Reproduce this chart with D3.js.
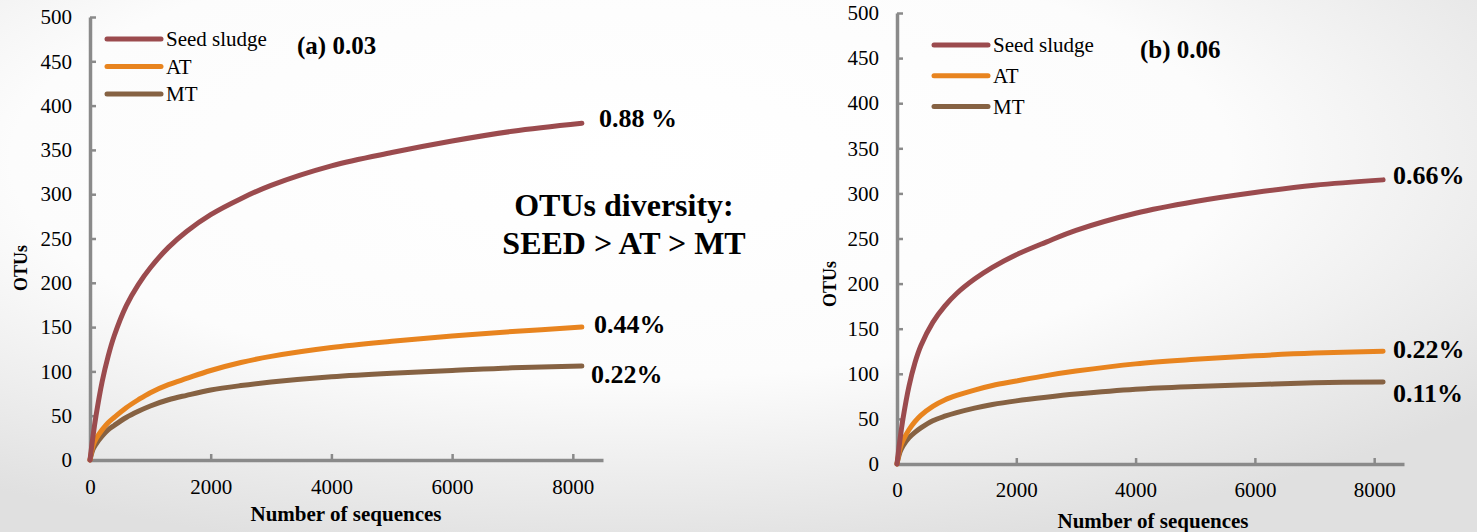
<!DOCTYPE html>
<html>
<head>
<meta charset="utf-8">
<script src="https://cdn.jsdelivr.net/npm/d3@7"></script>
<style>
  html, body { margin: 0; padding: 0; }
  body { width: 1477px; height: 532px; overflow: hidden; }
  .axis path, .axis line { stroke: #8a8a8a; }
</style>
</head>
<body>
<svg id="chart" width="1477" height="532"></svg>
<script>
const SERIF = '"Times New Roman", "Liberation Serif", Tinos, "Noto Serif", "DejaVu Serif", serif';

// number of sequences sampled (shared by every curve)
const sequences = [0, 50, 100, 200, 300, 400, 600, 800, 1000, 1300, 1600, 2000, 2500, 3000, 4000, 5000, 6000, 7000, 8150];

// (a) cutoff 0.03
const seedA = [0, 27, 50, 88, 117, 140, 174, 198, 217, 240, 258, 277, 295, 310, 332, 347, 360, 371, 380];
const atA   = [0, 16, 24, 34, 42, 48, 59, 68, 76, 85, 92, 101, 110, 117, 127, 134, 140, 145, 150];
const mtA   = [0, 12, 18, 27, 34, 39, 48, 55, 61, 68, 73, 79, 84, 88, 94, 98, 101, 104, 106];

// (b) cutoff 0.06
const seedB = [0, 27, 50, 86, 112, 131, 157, 175, 189, 205, 218, 232, 246, 259, 278, 291, 301, 309, 315];
const atB   = [0, 17, 26, 38, 47, 54, 64, 71, 76, 82, 87, 92, 98, 103, 111, 116, 120, 123, 125];
const mtB   = [0, 13, 20, 29, 35, 40, 48, 53, 57, 62, 66, 70, 74, 77.5, 83, 86, 88, 90, 91];

const seriesNames = ['Seed sludge', 'AT', 'MT'];
const seriesColors = ['#9b4b4e', '#e8841f', '#866243'];
const xTicks = [0, 2000, 4000, 6000, 8000];
const yTicks = d3.range(0, 501, 50);

const panels = [
  {
    title: '(a) 0.03', series: [seedA, atA, mtA], ends: ['0.88 %', '0.44%', '0.22%'],
    x0: 90, x1: 603, y0: 460, y1: 17,
    titlePos: [297, 54], legend: { x: 107, y: 39, step: 27.5 },
    endPos: [[599, 127], [594, 333], [591, 383]],
    yLabel: [27, 268], xLabel: [346, 521], xTickY: 494,
  },
  {
    title: '(b) 0.06', series: [seedB, atB, mtB], ends: ['0.66%', '0.22%', '0.11%'],
    x0: 897, x1: 1404, y0: 464, y1: 13,
    titlePos: [1140, 58], legend: { x: 934, y: 45, step: 30.8 },
    endPos: [[1393, 184], [1393, 358], [1393, 402]],
    yLabel: [836, 284], xLabel: [1153, 528], xTickY: 497,
  },
];

const svg = d3.select('#chart');

// soft grey backdrop
const defs = svg.append('defs');
const grad = defs.append('radialGradient')
  .attr('id', 'bg')
  .attr('cx', '42%').attr('cy', '30%').attr('r', '75%');
grad.append('stop').attr('offset', '0%').attr('stop-color', '#ffffff');
grad.append('stop').attr('offset', '55%').attr('stop-color', '#fcfcfc');
grad.append('stop').attr('offset', '100%').attr('stop-color', '#e0e0e0');
svg.append('rect').attr('width', 1477).attr('height', 532).attr('fill', 'url(#bg)');

panels.forEach((p) => {
  const x = d3.scaleLinear().domain([0, 8500]).range([p.x0, p.x1]);
  const y = d3.scaleLinear().domain([0, 500]).range([p.y0, p.y1]);
  const g = svg.append('g');

  // y axis, ticks pointing inward
  const yAxis = g.append('g')
    .attr('class', 'axis')
    .attr('transform', `translate(${p.x0},0)`)
    .call(d3.axisRight(y).tickValues(yTicks).tickSize(6).tickSizeOuter(0));
  yAxis.select('.domain').attr('stroke-width', 3.5);
  yAxis.selectAll('.tick line').attr('stroke-width', 2.5);
  yAxis.selectAll('.tick text')
    .attr('x', -18)
    .attr('text-anchor', 'end')
    .style('font-size', '21px');

  // x axis, ticks pointing inward
  const xAxis = g.append('g')
    .attr('class', 'axis')
    .attr('transform', `translate(0,${p.y0})`)
    .call(d3.axisTop(x).tickValues(xTicks).tickFormat(d3.format('d')).tickSize(6).tickSizeOuter(0));
  xAxis.select('.domain').attr('stroke-width', 3.5);
  xAxis.selectAll('.tick line').attr('stroke-width', 2.5);
  xAxis.selectAll('.tick text')
    .attr('y', p.xTickY - p.y0)
    .attr('dy', 0)
    .style('font-size', '21px');

  // curves
  const line = d3.line()
    .x((d, i) => x(sequences[i]))
    .y((d) => y(d))
    .curve(d3.curveCatmullRom.alpha(0.5));

  // draw MT first so seed sludge ends up on top
  [2, 1, 0].forEach((k) => {
    g.append('path')
      .datum(p.series[k])
      .attr('d', line)
      .attr('fill', 'none')
      .attr('stroke', seriesColors[k])
      .attr('stroke-width', 5)
      .attr('stroke-linecap', 'round');
  });

  // legend
  seriesNames.forEach((name, k) => {
    const ly = p.legend.y + k * p.legend.step;
    g.append('line')
      .attr('x1', p.legend.x).attr('x2', p.legend.x + 54)
      .attr('y1', ly).attr('y2', ly)
      .attr('stroke', seriesColors[k])
      .attr('stroke-width', 5)
      .attr('stroke-linecap', 'round');
    g.append('text')
      .attr('x', p.legend.x + 59)
      .attr('y', ly + 7)
      .style('font-size', '21px')
      .text(name);
  });

  // panel title
  g.append('text')
    .attr('x', p.titlePos[0]).attr('y', p.titlePos[1])
    .style('font-size', '25px').style('font-weight', 'bold')
    .text(p.title);

  // end labels
  p.ends.forEach((t, k) => {
    g.append('text')
      .attr('x', p.endPos[k][0]).attr('y', p.endPos[k][1])
      .style('font-size', '26px').style('font-weight', 'bold')
      .text(t);
  });

  // axis titles
  g.append('text')
    .attr('transform', `translate(${p.yLabel[0]},${p.yLabel[1]}) rotate(-90)`)
    .attr('text-anchor', 'middle')
    .style('font-size', '18px').style('font-weight', 'bold')
    .text('OTUs');
  g.append('text')
    .attr('x', p.xLabel[0]).attr('y', p.xLabel[1])
    .attr('text-anchor', 'middle')
    .style('font-size', '21px').style('font-weight', 'bold')
    .text('Number of sequences');
});

// annotation in panel (a)
svg.append('text')
  .attr('x', 624).attr('y', 216)
  .attr('text-anchor', 'middle')
  .style('font-size', '32px').style('font-weight', 'bold')
  .text('OTUs diversity:');
svg.append('text')
  .attr('x', 624).attr('y', 254)
  .attr('text-anchor', 'middle')
  .style('font-size', '32px').style('font-weight', 'bold')
  .text('SEED > AT > MT');

// every label in Times-like serif, black
svg.selectAll('text')
  .style('font-family', SERIF)
  .attr('fill', '#000');
</script>
</body>
</html>
